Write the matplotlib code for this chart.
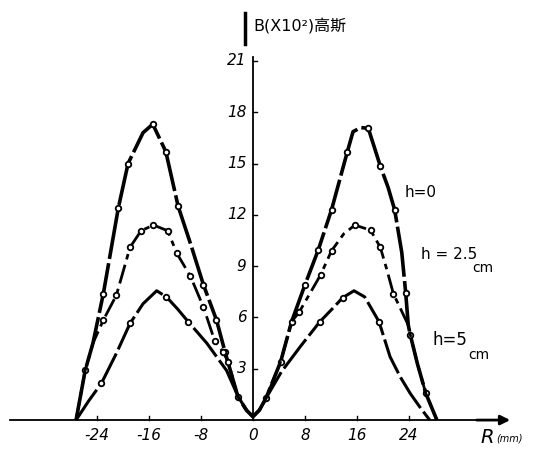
import matplotlib
matplotlib.use("Agg")
import matplotlib.pyplot as plt


# h = 0
r_h0 = [-27.2, -25.8, -24.6, -23.0, -20.7, -19.2, -16.9, -15.4, -13.4, -11.5,
        -9.5, -7.6, -5.6, -4.3, -2.3, -1.0, 0.0, 1.0, 2.0, 4.26, 5.95, 8.0,
        10.05, 12.1, 14.5, 15.4, 16.6, 17.75, 19.6, 20.8, 21.8, 22.9, 23.5,
        23.9, 24.2, 25.3, 26.6, 28.3]
b_h0 = [0.0, 2.9, 4.5, 7.4, 12.4, 15.0, 16.8, 17.3, 15.7, 12.5,
        10.2, 7.9, 5.85, 4.0, 1.36, 0.58, 0.2, 0.58, 1.27, 3.4, 5.75, 7.9,
        9.94, 12.3, 15.65, 16.86, 17.1, 17.06, 14.85, 13.6, 12.3, 9.8, 7.45,
        5.55, 5.0, 3.3, 1.56, 0.0]
mk_h0 = [1, 3, 4, 5, 7, 8, 9, 11, 12, 13, 14, 18, 19, 20, 21, 22, 23, 24,
         27, 28, 30, 32, 34, 36]

# h = 2.5 cm
r_h25 = [-27.2, -25.8, -24.6, -23.0, -21.0, -18.9, -17.2, -15.3, -13.1,
         -11.7, -9.6, -7.6, -5.85, -4.6, -3.8, -2.3, -1.0, 0.0, 1.0, 2.0,
         4.26, 5.95, 7.1, 10.4, 12.1, 14.0, 15.7, 18.1, 19.6, 20.6, 21.6,
         23.9, 24.2, 25.3, 26.6, 28.3]
b_h25 = [0.0, 2.9, 4.5, 5.85, 7.3, 10.1, 11.07, 11.4, 11.07,
         9.75, 8.4, 6.6, 4.6, 4.0, 3.4, 1.36, 0.58, 0.2, 0.58, 1.27,
         3.4, 5.75, 6.3, 8.48, 9.9, 10.9, 11.4, 11.1, 10.1, 8.8, 7.4,
         5.55, 5.0, 3.3, 1.56, 0.0]
mk_h25 = [3, 4, 5, 6, 7, 8, 9, 10, 11, 12, 13, 14, 22, 23, 24, 26, 27, 28, 30]

# h = 5 cm
r_h5 = [-27.2, -25.3, -23.3, -21.0, -18.9, -16.9, -14.8, -13.3, -11.6, -9.95,
        -7.1, -4.05, -2.26, -0.97, 0.0, 1.0, 2.0, 4.4, 7.3, 10.3, 12.2, 13.8,
        15.55, 17.2, 19.4, 21.1, 22.7, 24.2, 25.8, 27.2]
b_h5 = [0.0, 1.1, 2.15, 3.9, 5.65, 6.8, 7.56, 7.2, 6.5, 5.75,
        4.5, 2.9, 1.36, 0.58, 0.2, 0.58, 1.27, 2.83, 4.3, 5.75, 6.5, 7.15,
        7.56, 7.2, 5.75, 3.7, 2.5, 1.56, 0.7, 0.0]
mk_h5 = [2, 4, 7, 9, 19, 21, 24]

x_ticks = [-24, -16, -8, 0, 8, 16, 24]
y_ticks = [3, 6, 9, 12, 15, 18, 21]
y_labels = ["3", "6", "9", "12", "15", "18", "21"]

plt.rcParams["font.family"] = ["DejaVu Sans", "Noto Sans CJK SC"]

fig = plt.figure(figsize=(5.5, 4.5), dpi=100)
ax = fig.add_axes([0, 0, 1, 1])
ax.set_xlim(-38.9, 45.7)
ax.set_ylim(-1.75, 24.56)
ax.axis("off")

circ = dict(marker="o", ms=4, mfc="white", mec="black", mew=1.3)
ax.plot(r_h0, b_h0, color="black", lw=2.6, dashes=(14, 1.2),
        solid_joinstyle="round", markevery=mk_h0, **circ)
ax.plot(r_h25, b_h25, color="black", lw=2.0, dashes=(7, 2, 2, 2),
        markevery=mk_h25, **circ)
ax.plot(r_h5, b_h5, color="black", lw=2.2, dashes=(12, 1.5),
        markevery=mk_h5, **circ)

# axes drawn by hand
ax.plot([-37.4, 36], [0, 0], color="black", lw=1.3)
ax.annotate("", xy=(40, 0), xytext=(34, 0),
            arrowprops=dict(arrowstyle="-|>", color="black", lw=2,
                            mutation_scale=14))
ax.plot([0, 0], [0, 21.2], color="black", lw=1.3)
ax.plot([-1.2, -1.2], [22.0, 23.8], color="black", lw=2.5)

for t in x_ticks:
    ax.plot([t, t], [0, 0.25], color="black", lw=1)
    ax.text(t, -0.45, str(t), ha="center", va="top", fontsize=11,
            style="italic")
for t, lab in zip(y_ticks, y_labels):
    ax.plot([0, 0.6], [t, t], color="black", lw=1)
    ax.text(-1.0, t, lab, ha="right", va="center", fontsize=11,
            style="italic")

ax.text(0.0, 23.0, "B(X10²)高斯", ha="left", va="center", fontsize=11.5)
ax.text(35.0, -1.0, "R", ha="left", va="center", fontsize=14, style="italic")
ax.text(37.4, -1.1, "(mm)", ha="left", va="center", fontsize=7,
        style="italic")

ax.text(23.3, 13.3, "h=0", ha="left", va="center", fontsize=11)
ax.text(25.8, 9.7, "h = 2.5", ha="left", va="center", fontsize=11)
ax.text(33.8, 8.9, "cm", ha="left", va="center", fontsize=10)
ax.text(27.7, 4.7, "h=5", ha="left", va="center", fontsize=12)
ax.text(33.2, 3.8, "cm", ha="left", va="center", fontsize=10)

fig.savefig("out.png")
